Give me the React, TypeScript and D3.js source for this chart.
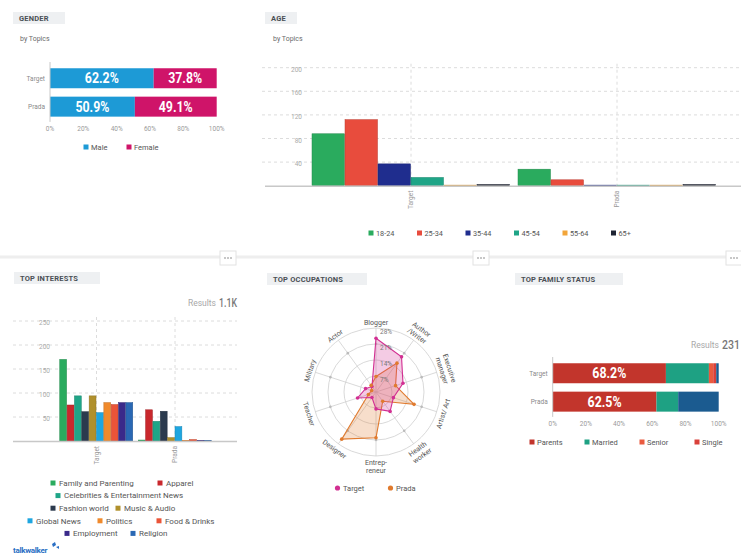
import React from 'react';
import * as d3 from 'd3';

// ---- data ----
const topics = ['Target', 'Prada'];

const genderKeys = ['Male', 'Female'];
const genderMale = [62.2, 50.9];
const genderFemale = [37.8, 49.1];
const genderColors = ['#1d9ad6', '#cf1469'];

const ageGroups = ['18-24', '25-34', '35-44', '45-54', '55-64', '65+'];
const ageTarget = [88, 112, 37, 14, 1, 2];
const agePrada = [28, 10, 1, 1, 1, 2];
const ageColors = ['#2aab5e', '#e84c3d', '#1f2d8e', '#1fa587', '#f2a53a', '#1e2433'];
const ageTicks = [40, 80, 120, 160, 200];

const interests = [
  'Family and Parenting',
  'Apparel',
  'Celebrities & Entertainment News',
  'Fashion world',
  'Music & Audio',
  'Global News',
  'Politics',
  'Food & Drinks',
  'Employment',
  'Religion',
];
const interestTarget = [170, 75, 94, 61, 94, 59, 80, 76, 80, 80];
const interestPrada = [2, 65, 41, 62, 7, 30, 1, 3, 1, 1];
const interestColors = ['#2aab5e', '#c9282d', '#1fa587', '#2b3a4e', '#b0902c', '#1ea6e0', '#f08a2c', '#ea5438', '#3a2a8a', '#2a68b4'];
const interestTicks = [50, 100, 150, 200, 250];

const occupations = [
  ['Blogger'],
  ['Author', '/Writer'],
  ['Executive', 'manager'],
  ['Artist/ Art'],
  ['Health', 'worker'],
  ['Entrep-', 'reneur'],
  ['Designer'],
  ['Teacher'],
  ['Military'],
  ['Actor'],
];
const occTarget = [23.5, 19, 12.4, 8, 10.5, 7.4, 3, 8.5, 4.8, 3];
const occPrada = [6.8, 15.6, 9, 17.5, 5, 20, 25.5, 3.5, 2, 3.6];
const occTicks = [7, 14, 21, 28];
const occColors = ['#d22f92', '#e07a2e'];

const familyKeys = ['Parents', 'Married', 'Senior', 'Single', 'Other'];
const familyTarget = [68.2, 25.9, 2.6, 1.8, 1.5];
const familyPrada = [62.5, 13.1, 0, 0, 24.4];
const familyColors = ['#c2352c', '#1ea183', '#ea5a3f', '#d9403a', '#1b5b90'];

const pctTicks = [0, 20, 40, 60, 80, 100];

const FONT = 'Roboto, "Noto Sans", sans-serif';

const TitleBox = ({ x, y, w, label }: { x: number; y: number; w: number; label: string }) => (
  <g>
    <rect x={x} y={y} width={w} height={12} fill="#eef0f2" />
    <text x={x + 6} y={y + 8.8} fontSize={7.5} fontWeight={700} fill="#4a4f55" fontFamily={FONT} letterSpacing={0.2}>
      {label}
    </text>
  </g>
);

const Square = ({ x, y, color }: { x: number; y: number; color: string }) => (
  <rect x={x - 2.5} y={y - 2.5} width={5} height={5} fill={color} />
);

// condensed number, squeezed to a given width
const Condensed = ({ x, y, size, w, fill, weight, anchor, children }: any) => (
  <text
    x={x}
    y={y}
    fontSize={size}
    fontWeight={weight}
    fill={fill}
    fontFamily={FONT}
    textAnchor={anchor}
    textLength={w}
    lengthAdjust="spacingAndGlyphs"
  >
    {children}
  </text>
);

// stacked horizontal 100% bars (gender, family)
const StackedBars = ({
  rows,
  keys,
  colors,
  x0,
  x1,
  y0,
  y1,
  labelFirstOnly,
}: {
  rows: number[][];
  keys: string[];
  colors: string[];
  x0: number;
  x1: number;
  y0: number;
  y1: number;
  labelFirstOnly: boolean;
}) => {
  const x = d3.scaleLinear().domain([0, 100]).range([x0, x1]);
  const y = d3.scaleBand().domain(topics).range([y0, y1]).paddingInner(0.296).paddingOuter(0.15);
  const data = topics.map((t, i) => {
    const o: any = { topic: t };
    keys.forEach((k, j) => (o[k] = rows[j][i]));
    return o;
  });
  const series = d3.stack<any>().keys(keys)(data);
  return (
    <g>
      {series.map((s, j) =>
        s.map((d, i) => {
          const w = x(d[1]) - x(d[0]);
          if (w <= 0) return null;
          const showLabel = labelFirstOnly ? j === 0 : true;
          return (
            <g key={`${j}-${i}`}>
              <rect x={x(d[0])} y={y(topics[i])} width={w} height={y.bandwidth()} fill={colors[j]} />
              {showLabel && (
                <Condensed
                  x={(x(d[0]) + x(d[1])) / 2}
                  y={(y(topics[i]) as number) + y.bandwidth() / 2 + 5}
                  anchor="middle"
                  size={14}
                  w={34}
                  weight={700}
                  fill="#fff"
                >
                  {`${(d[1] - d[0]).toFixed(1)}%`}
                </Condensed>
              )}
            </g>
          );
        })
      )}
      <line x1={x0} x2={x0} y1={y0 - 2} y2={y1 + 1} stroke="#c8c8c8" strokeWidth={1} />
      {topics.map((t) => (
        <text
          key={t}
          x={x0 - 5}
          y={(y(t) as number) + y.bandwidth() / 2 + 2.5}
          textAnchor="end"
          fontSize={6.5}
          fill="#8a8a8a"
          fontFamily={FONT}
        >
          {t}
        </text>
      ))}
      {pctTicks.map((t) => (
        <text key={t} x={x(t)} y={y1 + 10} textAnchor="middle" fontSize={6.5} fill="#9a9a9a" fontFamily={FONT}>
          {`${t}%`}
        </text>
      ))}
    </g>
  );
};

const GroupedBars = ({
  values,
  colors,
  yScale,
  xRange,
  innerRange,
}: {
  values: number[][];
  colors: string[];
  yScale: d3.ScaleLinear<number, number>;
  xRange: [number, number];
  innerRange: [number, number];
}) => {
  const x = d3.scaleBand().domain(topics).range(xRange);
  const inner = d3.scaleBand<number>().domain(d3.range(colors.length)).range(innerRange);
  const base = yScale(0);
  return (
    <g>
      {topics.map((t) => (
        <line
          key={t}
          x1={(x(t) as number) + x.bandwidth() / 2}
          x2={(x(t) as number) + x.bandwidth() / 2}
          y1={yScale.range()[1] - 4}
          y2={base}
          stroke="#dcdcdc"
          strokeDasharray="3,3"
        />
      ))}
      {topics.map((t, ti) =>
        colors.map((c, si) => {
          const v = values[ti][si];
          return (
            <rect
              key={`${t}-${si}`}
              x={(x(t) as number) + (inner(si) as number)}
              y={yScale(v)}
              width={inner.bandwidth() - 0.5}
              height={base - yScale(v)}
              fill={c}
              stroke={d3.color(c)!.darker(0.6).toString()}
              strokeWidth={0.5}
            />
          );
        })
      )}
      {topics.map((t) => (
        <text
          key={t}
          transform={`translate(${(x(t) as number) + x.bandwidth() / 2 + 2},${base + 5}) rotate(-90)`}
          textAnchor="end"
          fontSize={6.5}
          fill="#9a9a9a"
          fontFamily={FONT}
        >
          {t}
        </text>
      ))}
    </g>
  );
};

const Gender = () => (
  <g>
    <TitleBox x={13} y={12} w={52} label="GENDER" />
    <text x={20} y={41} fontSize={7} fill="#6b6b6b" fontFamily={FONT}>by Topics</text>
    <StackedBars
      rows={[genderMale, genderFemale]}
      keys={genderKeys}
      colors={genderColors}
      x0={50}
      x1={216.7}
      y0={64}
      y1={120.9}
      labelFirstOnly={false}
    />
    {genderKeys.map((k, i) => (
      <g key={k}>
        <Square x={86 + i * 43} y={147} color={genderColors[i]} />
        <text x={91 + i * 43} y={149.6} fontSize={7.5} fill="#555" fontFamily={FONT}>{k}</text>
      </g>
    ))}
  </g>
);

const Age = () => {
  const y = d3.scaleLinear().domain([0, 200]).range([185.7, 67.7]);
  return (
    <g>
      <TitleBox x={265} y={12} w={32} label="AGE" />
      <text x={273} y={41} fontSize={7} fill="#6b6b6b" fontFamily={FONT}>by Topics</text>
      {ageTicks.map((t) => (
        <g key={t}>
          <line x1={262} x2={741} y1={y(t)} y2={y(t)} stroke="#dcdcdc" strokeDasharray="3,3" />
          <text x={302} y={y(t) + 4} textAnchor="end" fontSize={6.5} fill="#aaa" fontFamily={FONT}>{t}</text>
        </g>
      ))}
      <GroupedBars
        values={[ageTarget, agePrada]}
        colors={ageColors}
        yScale={y}
        xRange={[308, 720]}
        innerRange={[4, 202]}
      />
      <line x1={265} x2={741} y1={y(0) + 0.5} y2={y(0) + 0.5} stroke="#c8c8c8" strokeWidth={1.5} />
      {ageGroups.map((g, i) => (
        <g key={g}>
          <Square x={371 + i * 48.5} y={233} color={ageColors[i]} />
          <text x={376 + i * 48.5} y={235.6} fontSize={7.3} fill="#555" fontFamily={FONT}>{g}</text>
        </g>
      ))}
    </g>
  );
};

// legend rows for interests: [index, x of square]
const interestLegendRows: [number, number][][] = [
  [[0, 53], [1, 160]],
  [[2, 58]],
  [[3, 53], [4, 118]],
  [[5, 30], [6, 100], [7, 159]],
  [[8, 67], [9, 133]],
];

const Interests = () => {
  const y = d3.scaleLinear().domain([0, 250]).range([441, 321]);
  return (
    <g>
      <TitleBox x={14} y={272} w={86} label="TOP INTERESTS" />
      <text x={216} y={306} textAnchor="end" fontSize={8.5} fill="#a8a8a8" fontFamily={FONT}>Results</text>
      <Condensed x={237} y={306.5} anchor="end" size={12} w={18} weight={500} fill="#777">1.1K</Condensed>
      {interestTicks.map((t) => (
        <g key={t}>
          <line x1={13} x2={237} y1={y(t)} y2={y(t)} stroke="#dcdcdc" strokeDasharray="3,3" />
          <text x={50} y={y(t) + 4} textAnchor="end" fontSize={6.5} fill="#aaa" fontFamily={FONT}>{t}</text>
        </g>
      ))}
      <GroupedBars
        values={[interestTarget, interestPrada]}
        colors={interestColors}
        yScale={y}
        xRange={[57.25, 214.25]}
        innerRange={[2.5, 76]}
      />
      <line x1={13} x2={237} y1={y(0) + 0.5} y2={y(0) + 0.5} stroke="#c8c8c8" strokeWidth={1.5} />
      {interestLegendRows.map((row, r) =>
        row.map(([idx, sx]) => (
          <g key={idx}>
            <Square x={sx} y={483 + r * 12.6} color={interestColors[idx]} />
            <text x={sx + 6} y={485.8 + r * 12.6} fontSize={8} fill="#555" fontFamily={FONT}>
              {interests[idx]}
            </text>
          </g>
        ))
      )}
      <text x={13} y={553} fontSize={8} fontWeight={700} fill="#2a6fc4" fontFamily={FONT} letterSpacing={-0.3}>
        talkwalker
      </text>
      <path d="M52,544 l3,-2 l1,3 l-3,2 z M56,547 l3,-1 l0,3 z" fill="#2a6fc4" />
    </g>
  );
};

const Occupations = () => {
  const cx = 376;
  const cy = 392;
  const R = 64;
  const r = d3.scaleLinear().domain([0, 28]).range([0, R]);
  const step = (2 * Math.PI) / occupations.length;
  const radial = d3
    .lineRadial<number>()
    .angle((_, i) => i * step)
    .radius((d) => r(d))
    .curve(d3.curveLinearClosed);
  const pt = (v: number, i: number) => [r(v) * Math.sin(i * step), -r(v) * Math.cos(i * step)];
  return (
    <g>
      <TitleBox x={267} y={273} w={100} label="TOP OCCUPATIONS" />
      <g transform={`translate(${cx},${cy})`}>
        {occTicks.map((t) => (
          <circle key={t} r={r(t)} fill="none" stroke="#cfcfcf" strokeWidth={0.8} />
        ))}
        {occupations.map((_, i) => {
          const [x2, y2] = pt(28, i);
          const [dx, dy] = pt(21, i);
          return (
            <g key={i}>
              <line x1={0} y1={0} x2={x2} y2={y2} stroke="#cfcfcf" strokeWidth={0.8} />
              <circle cx={dx} cy={dy} r={1.3} fill="#bbb" />
            </g>
          );
        })}
        <path d={radial(occPrada) as string} fill={occColors[1]} fillOpacity={0.25} stroke={occColors[1]} strokeWidth={1.1} />
        <path d={radial(occTarget) as string} fill={occColors[0]} fillOpacity={0.25} stroke={occColors[0]} strokeWidth={1.1} />
        {[occTarget, occPrada].map((s, si) =>
          s.map((v, i) => {
            const [px, py] = pt(v, i);
            return <circle key={`${si}-${i}`} cx={px} cy={py} r={1.8} fill={occColors[si]} />;
          })
        )}
        {occTicks.map((t) => (
          <text key={t} x={4} y={-r(t) + 6} fontSize={6.5} fill="#777" fontFamily={FONT}>{`${t}%`}</text>
        ))}
        {occupations.map((lines, i) => {
          const deg = (i * 360) / occupations.length;
          const top = deg <= 90 || deg >= 270;
          const rot = top ? (deg > 180 ? deg - 360 : deg) : deg - 180;
          const [lx, ly] = pt(28, i).map((c) => (c * (R + 3)) / R);
          return (
            <text
              key={i}
              transform={`translate(${lx},${ly}) rotate(${rot})`}
              textAnchor="middle"
              fontSize={7}
              fill="#555"
              fontFamily={FONT}
            >
              {lines.map((l, k) => (
                <tspan key={k} x={0} y={top ? -(lines.length - 1 - k) * 8 : 6 + k * 8}>
                  {l}
                </tspan>
              ))}
            </text>
          );
        })}
      </g>
      {topics.map((t, i) => (
        <g key={t}>
          <circle cx={337.5 + i * 53} cy={488} r={2.6} fill={occColors[i]} />
          <text x={343 + i * 53} y={490.6} fontSize={7.5} fill="#555" fontFamily={FONT}>{t}</text>
        </g>
      ))}
    </g>
  );
};

const Family = () => (
  <g>
    <TitleBox x={515} y={273} w={108} label="TOP FAMILY STATUS" />
    <text x={719} y={348} textAnchor="end" fontSize={8.5} fill="#a8a8a8" fontFamily={FONT}>Results</text>
    <Condensed x={740} y={348.5} anchor="end" size={12} w={18} weight={500} fill="#777">231</Condensed>
    <StackedBars
      rows={familyKeys.map((_, j) => [familyTarget[j], familyPrada[j]])}
      keys={familyKeys}
      colors={familyColors}
      x0={552.7}
      x1={718.7}
      y0={359}
      y1={415.9}
      labelFirstOnly={true}
    />
    {familyKeys.slice(0, 4).map((k, i) => (
      <g key={k}>
        <Square x={532 + i * 55} y={442} color={familyColors[i]} />
        <text x={537 + i * 55} y={444.6} fontSize={7.5} fill="#555" fontFamily={FONT}>{k}</text>
      </g>
    ))}
  </g>
);

const Ellipsis = ({ x }: { x: number }) => (
  <g>
    <rect x={x - 8} y={251} width={16} height={14} fill="#fff" stroke="#e2e2e2" />
    {[-3, 0, 3].map((d) => (
      <circle key={d} cx={x + d} cy={258} r={1} fill="#b5b5b5" />
    ))}
  </g>
);

export default function App() {
  return (
    <svg
      width={741}
      height={555}
      style={{ position: 'absolute', left: 0, top: 0, background: '#fff' }}
    >
      <rect width={741} height={555} fill="#fff" />
      <line x1={0} x2={741} y1={257} y2={257} stroke="#eeeeee" strokeWidth={3} />
      <Ellipsis x={228} />
      <Ellipsis x={481} />
      <Ellipsis x={734} />
      <Gender />
      <Age />
      <Interests />
      <Occupations />
      <Family />
    </svg>
  );
}
